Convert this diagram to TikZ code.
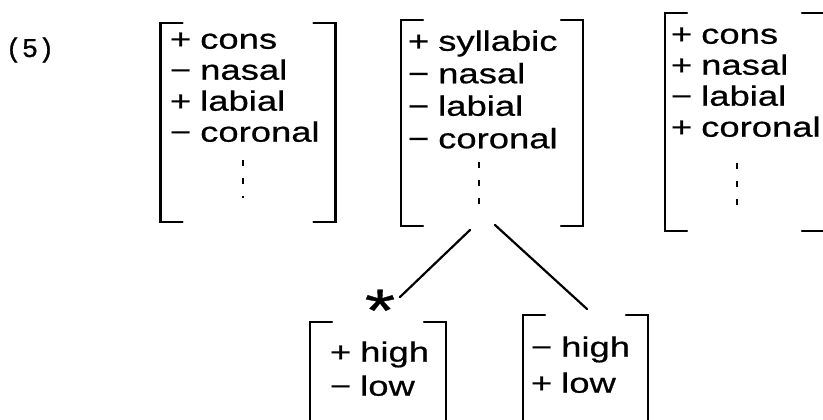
\documentclass[tikz,border=0pt]{standalone}
\usepackage{fontspec}
\setmainfont[FakeStretch=1.3, FakeBold=0.6]{Liberation Sans}
\newfontfamily\typefont[FakeBold=0.8]{Liberation Mono}

\tikzstyle{frame} = [rectangle, inner sep=0pt, outer sep=0pt]
\tikzstyle{features} = [rectangle, inner sep=0pt, outer sep=0pt, anchor=north west, align=left, font=\fontsize{28}{31}\selectfont]
\tikzstyle{asterisk} = [inner sep=0pt, anchor=base, font=\fontsize{60}{60}\selectfont]
\tikzstyle{bracket} = [line width=2.4pt, line cap=round]
\tikzstyle{branch} = [line width=2.2pt, line cap=round]
\tikzstyle{ellipsis} = [line width=2.6pt, dash pattern=on 6pt off 12pt]

\newcommand{\brackets}[1]{
\draw [bracket] ([xshift=22pt]#1.north west) -- (#1.north west) -- (#1.south west) -- ++(22pt,0);
\draw [bracket] ([xshift=-22pt]#1.north east) -- (#1.north east) -- (#1.south east) -- ++(-22pt,0);
}
\newcommand{\gap}{\kern9pt}

\begin{document}
\begin{tikzpicture}[x=1pt, y=-1pt]
\useasboundingbox (0,0) rectangle (823,420);

\node (num) [font=\typefont\fontsize{27}{27}\selectfont] at (30,50) {(5)};

\node (labialm) [frame, minimum width=175pt, minimum height=199pt] at (248,122.5) {};
\node (vowelm) [frame, minimum width=182pt, minimum height=206pt] at (492,123) {};
\node (nasalm) [frame, minimum width=159pt, minimum height=218pt] at (744.5,122) {};
\node (highm) [frame, minimum width=136pt, minimum height=128pt] at (378,386) {};
\node (lowm) [frame, minimum width=125pt, minimum height=135pt] at (585.5,382.5) {};

\node (labialf) [features] at (170,27) {\strut+\gap cons\\−\gap nasal\\+\gap labial\\−\gap coronal};
\node (vowelf) [features, font=\fontsize{28}{32.5}\selectfont] at (408,28) {\strut+\gap syllabic\\−\gap nasal\\−\gap labial\\−\gap coronal};
\node (nasalf) [features] at (671,22) {\strut+\gap cons\\+\gap nasal\\−\gap labial\\+\gap coronal};
\node (highf) [features] at (330,340) {\strut+\gap high\\[3pt]−\gap low};
\node (lowf) [features] at (531,335) {\strut−\gap high\\[5pt]+\gap low};
\node (star) [asterisk] at (380,331) {*};

\brackets{labialm}
\brackets{vowelm}
\brackets{nasalm}
\brackets{highm}
\brackets{lowm}

\draw [ellipsis] (243,160) -- (243,198);
\draw [ellipsis] (479,162) -- (479,205);
\draw [ellipsis] (737,163) -- (737,210);

\draw [branch] ([xshift=-22pt,yshift=-4pt]vowelm.south) -- ([xshift=22pt,yshift=25pt]highm.north);
\draw [branch] ([xshift=3pt,yshift=1pt]vowelm.south) -- ([xshift=1.5pt,yshift=6pt]lowm.north);

\end{tikzpicture}
\end{document}
